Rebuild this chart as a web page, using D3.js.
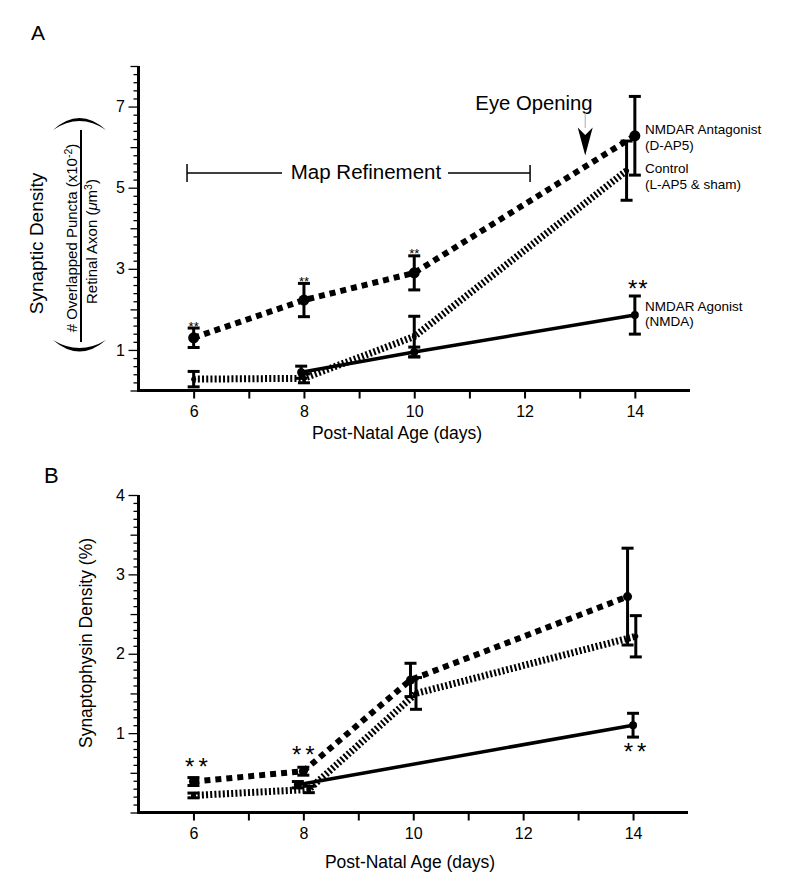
<!DOCTYPE html>
<html><head><meta charset="utf-8">
<script src="https://cdn.jsdelivr.net/npm/d3@7"></script>
<style>
body{margin:0;background:#fff}
svg{display:block}
text{font-family:"Liberation Sans",Arial,Helvetica,sans-serif;fill:#000}
</style>
</head><body>
<svg id="c" width="795" height="891"></svg>
<script>
// ---------------- DATA ----------------
const xMajorTicks = [6, 8, 10, 12, 14];
const xMinorTicks = [7, 9, 11, 13];

// Panel A : synaptic density
const aYLabeled = [1, 3, 5, 7];
const aAntagX = [6, 8, 10, 14];
const aAntagY = [1.30, 2.23, 2.90, 6.28];
const aAntagErr = [0.24, 0.41, 0.42, 0.97];
const aCtrlX = [6, 8, 10, 13.85];
const aCtrlY = [0.28, 0.30, 1.33, 5.42];
const aCtrlErr = [0.19, 0.11, 0.50, 0.73];
const aAgonX = [7.95, 10, 14];
const aAgonY = [0.45, 0.95, 1.86];
const aAgonErr = [0.15, 0.12, 0.47];
const aSmallStarDays = [6, 8, 10];

// Panel B : synaptophysin density
const bYLabeled = [1, 2, 3, 4];
const bAntagX = [6, 8, 9.95, 13.9];
const bAntagY = [0.39, 0.52, 1.67, 2.72];
const bAntagErr = [0.05, 0.05, 0.21, 0.61];
const bCtrlX = [6, 8.1, 10.05, 14.05];
const bCtrlY = [0.215, 0.29, 1.50, 2.22];
const bCtrlErr = [0.03, 0.04, 0.20, 0.26];
const bAgonX = [7.9, 14];
const bAgonY = [0.35, 1.10];
const bAgonErr = [0.04, 0.15];

const legendA = [
  {lines: ["NMDAR Antagonist", "(D-AP5)"], series: "antag"},
  {lines: ["Control", "(L-AP5 & sham)"], series: "ctrl"},
  {lines: ["NMDAR Agonist", "(NMDA)"], series: "agon"}
];

// ---------------- DRAW ----------------
const svg = d3.select("#c");

const styles = {
  antag: {w: 6, dash: "6,5", r: 5.5},
  ctrl:  {w: 7, dash: "2,2.2", r: 2.5},
  agon:  {w: 3.5, dash: null, r: 4}
};

function zip(xs, ys, es){ return xs.map((d,i)=>({x:d, y:ys[i], e:es[i]})); }

function drawAxes(x, y, yMax, minorStep, mediumStep, labeled) {
  const x0 = x.range()[0], x1 = x.range()[1];
  const y0 = y.range()[0];
  const n = Math.round(yMax / minorStep);
  const all = d3.range(0, n + 1).map(i => +(i * minorStep).toFixed(3));
  const isLab = v => labeled.some(l => Math.abs(l - v) < 1e-6);
  const isMed = v => Math.abs(v / mediumStep - Math.round(v / mediumStep)) < 1e-6;
  const minor = all.filter(v => !isLab(v) && !isMed(v));
  const medium = all.filter(v => !isLab(v) && isMed(v));

  const gy = svg.append("g").attr("transform", `translate(${x0},0)`);
  const ax1 = gy.append("g").call(d3.axisLeft(y).tickValues(minor).tickSize(5).tickFormat(""));
  const ax2 = gy.append("g").call(d3.axisLeft(y).tickValues(medium).tickSize(8).tickFormat(""));
  const ax3 = gy.append("g").call(d3.axisLeft(y).tickValues(labeled).tickSize(10).tickPadding(3.5).tickFormat(d3.format("d")));
  [ax1, ax2, ax3].forEach(a => {
    a.select(".domain").remove();
    a.selectAll("line").attr("stroke-width", 1.3);
    a.selectAll("text").attr("font-size", 16).attr("font-family", null);
  });

  const gx = svg.append("g").attr("transform", `translate(0,${y0})`);
  const bx1 = gx.append("g").call(d3.axisBottom(x).tickValues(xMinorTicks).tickSize(8).tickFormat(""));
  const bx2 = gx.append("g").call(d3.axisBottom(x).tickValues(xMajorTicks).tickSize(8).tickPadding(7.5).tickFormat(d3.format("d")));
  [bx1, bx2].forEach(a => {
    a.select(".domain").remove();
    a.selectAll("line").attr("stroke-width", 2);
    a.selectAll("text").attr("font-size", 16).attr("font-family", null);
  });

  svg.append("line").attr("x1", x0).attr("x2", x0).attr("y1", y(yMax)).attr("y2", y0 + 1.5)
    .attr("stroke", "#000").attr("stroke-width", 3);
  svg.append("line").attr("x1", x0 - 1.5).attr("x2", x1).attr("y1", y0).attr("y2", y0)
    .attr("stroke", "#000").attr("stroke-width", 3);
}

function drawSeries(x, y, pts, st) {
  const line = d3.line().x(d => x(d.x)).y(d => y(d.y));
  const p = svg.append("path").datum(pts).attr("d", line)
    .attr("fill", "none").attr("stroke", "#000").attr("stroke-width", st.w);
  if (st.dash) p.attr("stroke-dasharray", st.dash);
}
function drawErr(x, y, pts, st) {
  const g = svg.append("g").attr("stroke", "#000").attr("stroke-width", 3);
  const cap = 6;
  pts.forEach(d => {
    if (d.e <= 0) return;
    const cx = x(d.x), t = y(d.y + d.e), b = y(d.y - d.e);
    g.append("line").attr("x1", cx).attr("x2", cx).attr("y1", t).attr("y2", b);
    g.append("line").attr("x1", cx - cap).attr("x2", cx + cap).attr("y1", t).attr("y2", t);
    g.append("line").attr("x1", cx - cap).attr("x2", cx + cap).attr("y1", b).attr("y2", b);
  });
  svg.append("g").selectAll("circle").data(pts).join("circle")
    .attr("cx", d => x(d.x)).attr("cy", d => y(d.y)).attr("r", st.r).attr("fill", "#000");
}

function stars(px, py, size, spacing) {
  svg.append("text").attr("x", px + (spacing || 0) / 2).attr("y", py)
    .attr("text-anchor", "middle").attr("font-size", size)
    .attr("letter-spacing", spacing || 0).text("**");
}

// ===== Panel A =====
const xA = d3.scaleLinear().domain([5, 15]).range([138.5, 690]);
const yA = d3.scaleLinear().domain([0, 8]).range([390.5, 66]);
drawAxes(xA, yA, 8, 0.2, 1, aYLabeled);

const aAntag = zip(aAntagX, aAntagY, aAntagErr);
const aCtrl = zip(aCtrlX, aCtrlY, aCtrlErr);
const aAgon = zip(aAgonX, aAgonY, aAgonErr);
drawSeries(xA, yA, aAgon, styles.agon);
drawSeries(xA, yA, aCtrl, styles.ctrl);
drawSeries(xA, yA, aAntag, styles.antag);
drawErr(xA, yA, aAgon, styles.agon);
drawErr(xA, yA, aCtrl, styles.ctrl);
drawErr(xA, yA, aAntag, styles.antag);

aAntag.filter(d => aSmallStarDays.includes(d.x)).forEach(d => {
  stars(xA(d.x), yA(d.y + d.e) + 2.5, 13, 0);
});
{
  const d = aAgon[aAgon.length - 1];
  stars(xA(d.x) + 3, yA(d.y + d.e) + 1.5, 24, 1);
}

// legend texts
const legY = [[134, 149.6], [173.2, 188.8], [310.6, 326.2]];
legendA.forEach((L, i) => {
  L.lines.forEach((t, j) => {
    svg.append("text").attr("x", 645).attr("y", legY[i][j]).attr("font-size", 13.5).text(t);
  });
});

// Map Refinement bracket
const mrL = xA(5.88), mrR = xA(12.1), mrY = 173;
const br = svg.append("g").attr("stroke", "#000").attr("stroke-width", 1.5);
br.append("line").attr("x1", mrL).attr("x2", mrL).attr("y1", mrY - 9).attr("y2", mrY + 9);
br.append("line").attr("x1", mrL).attr("x2", 282).attr("y1", mrY).attr("y2", mrY);
br.append("line").attr("x1", 448).attr("x2", mrR).attr("y1", mrY).attr("y2", mrY);
br.append("line").attr("x1", mrR).attr("x2", mrR).attr("y1", mrY - 8).attr("y2", mrY + 9);
svg.append("text").attr("x", 366).attr("y", 178.5).attr("text-anchor", "middle")
  .attr("font-size", 20.5).text("Map Refinement");

// Eye Opening
svg.append("text").attr("x", 534).attr("y", 110).attr("text-anchor", "middle")
  .attr("font-size", 20.3).text("Eye Opening");
const ex = xA(13.1);
svg.append("line").attr("x1", ex).attr("x2", ex).attr("y1", 113).attr("y2", 128)
  .attr("stroke", "#aaa").attr("stroke-width", 1);
svg.append("path")
  .attr("d", `M${ex - 7.5},127.5 L${ex},135 L${ex + 7.5},127.5 L${ex},155.5 Z`)
  .attr("fill", "#000");

// Y label A
svg.append("text").attr("transform", "translate(42.5,243.5) rotate(-90)")
  .attr("text-anchor", "middle").attr("font-size", 19).text("Synaptic Density");
const t1 = svg.append("text").attr("transform", "translate(76.5,238) rotate(-90)")
  .attr("text-anchor", "middle").attr("font-size", 15);
t1.append("tspan").text("# Overlapped Puncta (x10");
t1.append("tspan").attr("dy", -5).attr("font-size", 10.5).text("-2");
t1.append("tspan").attr("dy", 5).text(")");
const t2 = svg.append("text").attr("transform", "translate(96.5,241.5) rotate(-90)")
  .attr("text-anchor", "middle").attr("font-size", 15);
t2.append("tspan").text("Retinal Axon (");
t2.append("tspan").attr("font-style", "italic").text("\u03bc");
t2.append("tspan").text("m");
t2.append("tspan").attr("dy", -5).attr("font-size", 10.5).text("3");
t2.append("tspan").attr("dy", 5).text(")");
svg.append("line").attr("x1", 81).attr("x2", 81).attr("y1", 130).attr("y2", 342)
  .attr("stroke", "#000").attr("stroke-width", 2);
svg.append("path").attr("d", "M53,130 Q79.5,106 106,130 Q79.5,112 53,130 Z").attr("fill", "#000");
svg.append("path").attr("d", "M53,340 Q79.5,363 106,340 Q79.5,356 53,340 Z").attr("fill", "#000");

svg.append("text").attr("x", 397).attr("y", 439).attr("text-anchor", "middle")
  .attr("font-size", 17.5).text("Post-Natal Age (days)");
svg.append("text").attr("x", 31).attr("y", 39.5).attr("font-size", 21).text("A");

// ===== Panel B =====
const xB = d3.scaleLinear().domain([5, 15]).range([138.5, 688]);
const yB = d3.scaleLinear().domain([0, 4]).range([812.5, 495]);
drawAxes(xB, yB, 4, 0.1, 0.5, bYLabeled);

const bAntag = zip(bAntagX, bAntagY, bAntagErr);
const bCtrl = zip(bCtrlX, bCtrlY, bCtrlErr);
const bAgon = zip(bAgonX, bAgonY, bAgonErr);
drawSeries(xB, yB, bAgon, styles.agon);
drawSeries(xB, yB, bCtrl, styles.ctrl);
drawSeries(xB, yB, bAntag, styles.antag);
drawErr(xB, yB, bAgon, {r: 4});
drawErr(xB, yB, bCtrl, {r: 2.5});
drawErr(xB, yB, bAntag, {r: 4.5});

stars(xB(bAntag[0].x) + 3, yB(bAntag[0].y + bAntag[0].e) - 3, 24, 4);
stars(xB(bAntag[1].x), yB(bAntag[1].y + bAntag[1].e) - 4, 24, 4);
{
  const d = bAgon[bAgon.length - 1];
  stars(xB(d.x) + 2, yB(d.y - d.e) + 22.5, 24, 4);
}

svg.append("text").attr("transform", "translate(92,643) rotate(-90)")
  .attr("text-anchor", "middle").attr("font-size", 17.5).text("Synaptophysin Density (%)");
svg.append("text").attr("x", 410).attr("y", 868).attr("text-anchor", "middle")
  .attr("font-size", 17.5).text("Post-Natal Age (days)");
svg.append("text").attr("x", 44).attr("y", 483).attr("font-size", 22).text("B");
</script>
</body></html>
